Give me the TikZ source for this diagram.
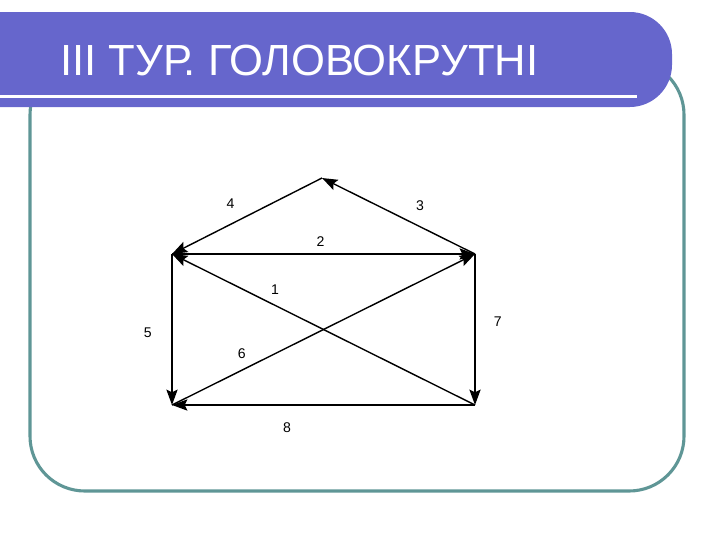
\documentclass[tikz,border=0pt]{standalone}
\usepackage{fontspec}
\setmainfont{Liberation Sans}
\usetikzlibrary{arrows.meta}

\definecolor{barblue}{RGB}{102,102,204}
\definecolor{frameteal}{RGB}{95,150,150}

\begin{document}
\begin{tikzpicture}[x=0.025cm,y=-0.025cm]

\tikzset{vertex/.style = {shape=coordinate}}
\tikzset{edge/.style = {-{Stealth[length=11pt,width=8pt,inset=2pt]},line width=1pt}}
\tikzset{lbl/.style = {font=\fontsize{10}{11}\selectfont,inner sep=1pt}}

\useasboundingbox (0,0) rectangle (720,540);

% frame and title bar
\draw[frameteal,line width=2.2pt,rounded corners=39pt] (30,60) rectangle (684,491);
\fill[barblue,rounded corners=30pt] (-60,12) rectangle (672,107);
\fill[white] (-5,95) rectangle (637,98);
\node[white,anchor=base west,inner sep=0,font=\fontsize{31}{34}\selectfont] (title) at (60,75) {III ТУР. ГОЛОВОКРУТНІ};

% vertices
\node[vertex] (t) at (322,178) {};
\node[vertex] (l) at (172,254) {};
\node[vertex] (r) at (475,254) {};
\node[vertex] (lb) at (172,405) {};
\node[vertex] (rb) at (475,405) {};

% edges
\draw[edge] (rb) -- node[lbl,above=6pt,pos=0.66] (n1) {1} (l);
\draw[edge] (l) -- node[lbl,above=4pt,pos=0.49] (n2) {2} (r);
\draw[edge] (r) -- node[lbl,above=10pt,pos=0.36] (n3) {3} (t);
\draw[edge] (t) -- node[lbl,above=10pt,pos=0.61] (n4) {4} (l);
\draw[edge] (l) -- node[lbl,left=13pt,pos=0.52] (n5) {5} (lb);
\draw[edge] (lb) -- node[lbl,above=7pt,pos=0.23] (n6) {6} (r);
\draw[edge] (r) -- node[lbl,right=12pt,pos=0.45] (n7) {7} (rb);
\draw[edge] (rb) -- node[lbl,below=11pt,pos=0.62] (n8) {8} (lb);
\end{tikzpicture}
\end{document}
